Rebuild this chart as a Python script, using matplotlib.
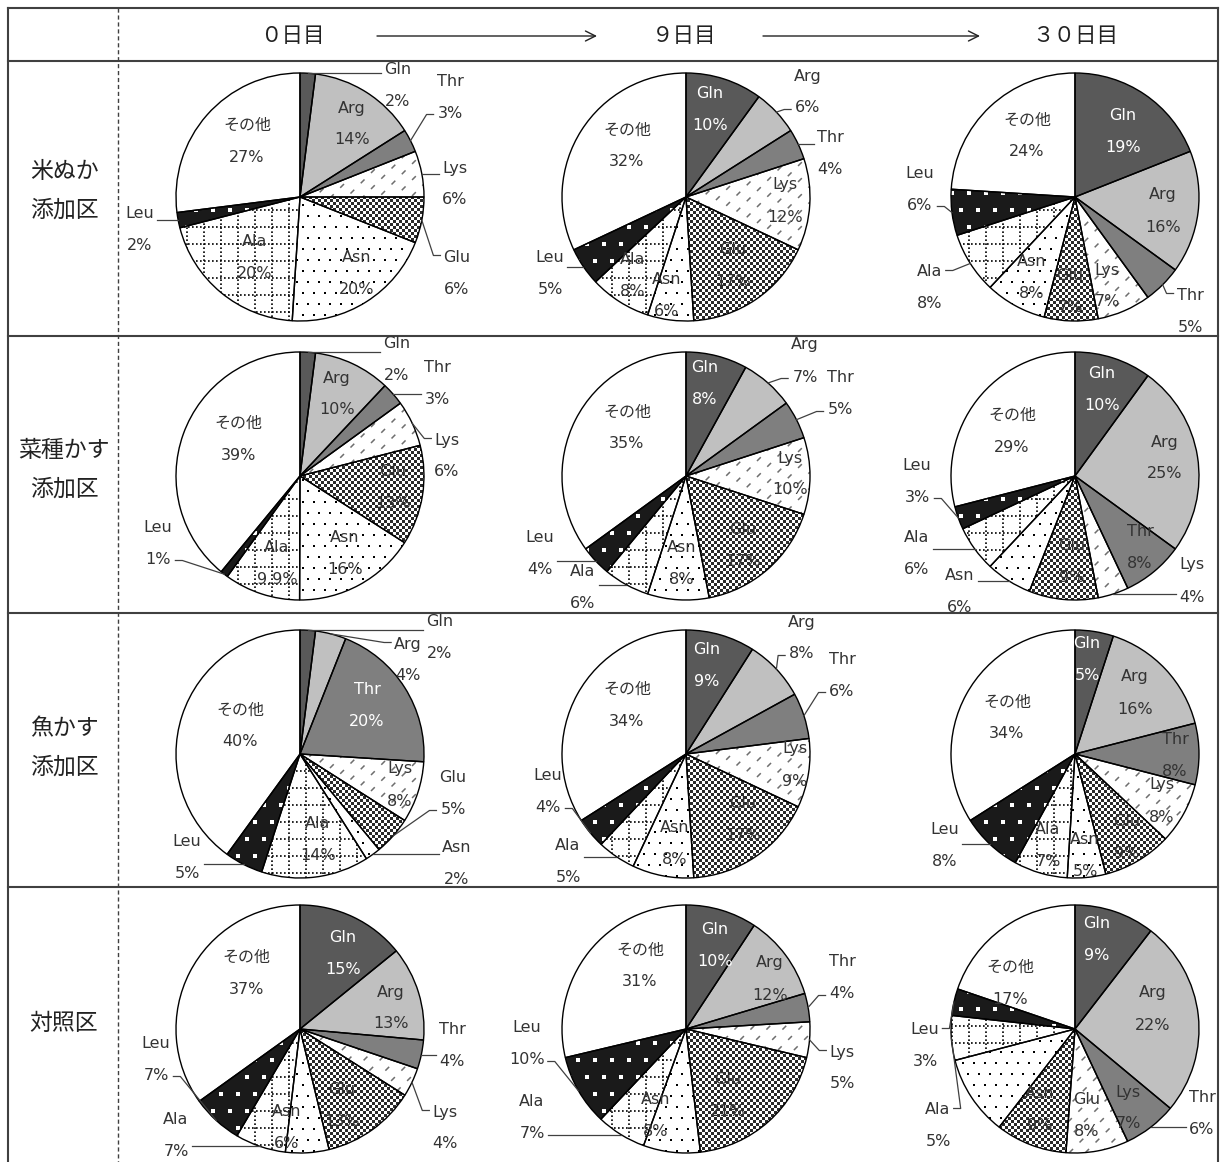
import numpy as np
import matplotlib
matplotlib.use("Agg")
import matplotlib.pyplot as plt
import matplotlib.patches as mpatches
from matplotlib.collections import LineCollection
from matplotlib.colors import ListedColormap

W, H = 1223, 1162

plt.rcParams['font.family'] = ['DejaVu Sans', 'Noto Sans CJK JP']

# --- data -------------------------------------------------------------
amino_acids = ['Gln', 'Arg', 'Thr', 'Lys', 'Glu', 'Asn', 'Ala', 'Leu', 'その他']
days = ['０日目', '９日目', '３０日目']
plots = ['米ぬか\n添加区', '菜種かす\n添加区', '魚かす\n添加区', '対照区']

# percentages, one list per sampling day (0, 9, 30)
rice_bran = [[2, 14, 3, 6, 6, 20, 20, 2, 27],
             [10, 6, 4, 12, 17, 6, 8, 5, 32],
             [19, 16, 5, 7, 7, 8, 8, 6, 24]]
rapeseed_cake = [[2, 10, 3, 6, 13, 16, 9.9, 1, 39],
                 [8, 7, 5, 10, 17, 8, 6, 4, 35],
                 [10, 25, 8, 4, 9, 6, 6, 3, 29]]
fish_cake = [[2, 4, 20, 8, 5, 2, 14, 5, 40],
             [9, 8, 6, 9, 17, 8, 5, 4, 34],
             [5, 16, 8, 8, 9, 5, 7, 8, 34]]
control = [[15, 13, 4, 4, 13, 6, 7, 7, 37],
           [10, 12, 4, 5, 21, 8, 7, 10, 31],
           [9, 22, 6, 7, 8, 9, 5, 3, 17]]
all_rows = [rice_bran, rapeseed_cake, fish_cake, control]

# --- layout (pixels, y measured from the top) --------------------------
pie_x = [300, 686, 1075]
pie_y = [197, 476, 754, 1029]
R = 124
row_lines = [61, 336, 613, 887]

# label anchor (x, y of the name line, outside?) for every slice
label_pos = [
    [[(398, 70, 1), (352, 108, 0), (450, 81, 1), (455, 168, 1), (457, 257, 1),
      (357, 258, 0), (255, 242, 0), (140, 213, 1), (247, 125, 0)],
     [(710, 93, 0), (808, 76, 1), (830, 137, 1), (785, 185, 0), (733, 250, 0),
      (667, 280, 0), (633, 260, 0), (550, 258, 1), (627, 130, 0)],
     [(1123, 115, 0), (1163, 195, 0), (1190, 295, 1), (1107, 270, 0), (1070, 276, 0),
      (1032, 262, 0), (930, 272, 1), (920, 173, 1), (1027, 120, 0)]],
    [[(397, 343, 1), (337, 378, 0), (437, 368, 1), (447, 440, 1), (393, 472, 0),
      (345, 537, 0), (277, 547, 0), (158, 527, 1), (238, 423, 0)],
     [(705, 368, 0), (805, 345, 1), (840, 378, 1), (790, 458, 0), (743, 530, 0),
      (682, 548, 0), (583, 572, 1), (540, 537, 1), (627, 412, 0)],
     [(1102, 373, 0), (1165, 442, 0), (1140, 532, 0), (1192, 565, 1), (1072, 545, 0),
      (960, 575, 1), (917, 537, 1), (917, 465, 1), (1012, 415, 0)]],
    [[(440, 622, 1), (408, 644, 1), (367, 689, 0), (400, 769, 0), (453, 777, 1),
      (457, 847, 1), (318, 824, 0), (187, 842, 1), (240, 710, 0)],
     [(707, 649, 0), (802, 622, 1), (842, 659, 1), (795, 749, 0), (743, 804, 0),
      (675, 827, 0), (568, 845, 1), (548, 775, 1), (627, 689, 0)],
     [(1087, 644, 0), (1135, 677, 0), (1175, 739, 0), (1162, 785, 0), (1127, 822, 0),
      (1085, 839, 0), (1048, 830, 0), (945, 829, 1), (1007, 702, 0)]],
    [[(343, 938, 0), (391, 992, 0), (452, 1030, 1), (445, 1112, 1), (342, 1090, 0),
      (287, 1112, 0), (176, 1120, 1), (156, 1043, 1), (246, 957, 0)],
     [(715, 930, 0), (770, 963, 0), (842, 962, 1), (842, 1052, 1), (728, 1080, 0),
      (656, 1100, 0), (532, 1102, 1), (527, 1028, 1), (640, 950, 0)],
     [(1097, 923, 0), (1153, 993, 0), (1202, 1098, 1), (1128, 1092, 0), (1087, 1100, 0),
      (1040, 1093, 0), (938, 1110, 1), (925, 1030, 1), (1010, 967, 0)]],
]

face_colors = ['#595959', '#c0c0c0', '#7f7f7f', 'white', 'white',
               'white', 'white', '#1a1a1a', 'white']
text_color = '#333333'
line_color = '#404040'


def fy(y):
    return H - y


# --- fill patterns, clipped to the wedge -------------------------------
def dashes(ax, wedge, cx, cy, r):
    step = 16
    segs = []
    for c in np.arange(-2 * r - (cx - cy) % step, 2 * r, step):
        x0, x1 = cx - r, cx + r
        segs.append([(x0, cy + (x0 - cx) + c), (x1, cy + (x1 - cx) + c)])
    lc = LineCollection(segs, colors='#6e6e6e', linewidths=1.1,
                        linestyles=[(0, (3.5, 6))], zorder=2)
    ax.add_collection(lc)
    lc.set_clip_path(wedge)


def checker(ax, wedge, cx, cy, r):
    cell = 3
    n = int(2 * r / cell) + 4
    x0 = np.floor((cx - r) / cell) * cell - cell
    y0 = np.floor((cy - r) / cell) * cell - cell
    ii, jj = np.indices((n, n))
    arr = ((ii + jj) % 2).astype(float)
    im = ax.imshow(arr, cmap=ListedColormap(['#2a2a2a', 'white']), vmin=0, vmax=1,
                   extent=(x0, x0 + n * cell, y0, y0 + n * cell), origin='lower',
                   interpolation='nearest', zorder=2)
    im.set_clip_path(wedge)


def dot_grid(ax, wedge, cx, cy, r, step, size, color, marker='s'):
    xs, ys = [], []
    for j, y in enumerate(np.arange(np.floor((cy - r) / step) * step, cy + r + step, step)):
        off = (j % 2) * step / 2
        for x in np.arange(np.floor((cx - r) / step) * step + off, cx + r + step, step):
            xs.append(x)
            ys.append(y)
    sc = ax.scatter(xs, ys, s=size, c=color, marker=marker, linewidths=0, zorder=2)
    sc.set_clip_path(wedge)


def dots(ax, wedge, cx, cy, r):
    dot_grid(ax, wedge, cx, cy, r, 11, 2.4, 'black')


def grid(ax, wedge, cx, cy, r):
    step = 17
    segs = []
    for x in np.arange(np.floor((cx - r) / step) * step, cx + r + step, step):
        segs.append([(x, cy - r), (x, cy + r)])
    for y in np.arange(np.floor((cy - r) / step) * step, cy + r + step, step):
        segs.append([(cx - r, y), (cx + r, y)])
    lc = LineCollection(segs, colors='black', linewidths=1.2,
                        linestyles=[(0, (1, 1.4))], zorder=2)
    ax.add_collection(lc)
    lc.set_clip_path(wedge)


def squares(ax, wedge, cx, cy, r):
    dot_grid(ax, wedge, cx, cy, r, 17, 7, 'white')


patterns = {3: dashes, 4: checker, 5: dots, 6: grid, 7: squares}

# --- figure ------------------------------------------------------------
fig = plt.figure(figsize=(W / 100, H / 100), dpi=100)
ax = fig.add_axes([0, 0, 1, 1])

outside_labels = []
for ri, row in enumerate(all_rows):
    for ci, vals in enumerate(row):
        cx, cy = pie_x[ci], fy(pie_y[ri])
        wedges, _ = ax.pie(vals, colors=face_colors, startangle=90, counterclock=False,
                           center=(cx, cy), radius=R,
                           wedgeprops=dict(linewidth=0, zorder=1))
        for k, w in enumerate(wedges):
            if k in patterns:
                patterns[k](ax, w, cx, cy, R)
            ax.add_patch(mpatches.Wedge((cx, cy), R, w.theta1, w.theta2, fill=False,
                                        ec='black', lw=1.0, zorder=3))

        for k, (w, name, v) in enumerate(zip(wedges, amino_acids, vals)):
            lx, ly, outside = label_pos[ri][ci][k]
            col = text_color
            if not outside and (k == 0 or (k == 2 and v >= 20)):
                col = 'white'
            t1 = ax.text(lx, fy(ly), name, ha='center', va='center', fontsize=11.5,
                         color=col, zorder=4)
            t2 = ax.text(lx, fy(ly + 32), f'{v:g}%', ha='center', va='center',
                         fontsize=11.5, color=col, zorder=4)
            if outside:
                outside_labels.append((t1, t2, w, cx, cy))

# pie() resets the view each call, so fix the limits before measuring text
ax.set_xlim(0, W)
ax.set_ylim(0, H)
ax.set_aspect('auto')
ax.axis('off')
renderer = fig.canvas.get_renderer()
to_data = ax.transData.inverted()

# leader lines from slice edge to the side of the label block
for t1, t2, w, cx, cy in outside_labels:
    b1 = t1.get_window_extent(renderer).transformed(to_data)
    b2 = t2.get_window_extent(renderer).transformed(to_data)
    left, right = min(b1.x0, b2.x0), max(b1.x1, b2.x1)
    bottom, top = min(b1.y0, b2.y0), max(b1.y1, b2.y1)
    th = np.deg2rad((w.theta1 + w.theta2) / 2)
    ex, ey = cx + R * np.cos(th), cy + R * np.sin(th)
    if ex < (left + right) / 2:
        axx, tail = left - 3, left - 10
    else:
        axx, tail = right + 3, right + 10
    ayy = np.clip(ey, bottom + 6, top - 6)
    ax.plot([ex, tail, axx], [ey, ayy, ayy], color=line_color, lw=0.9, zorder=4)

# --- table frame -------------------------------------------------------
x_left, x_right, x_split = 8, 1218, 118
ax.plot([x_left, x_right], [fy(8), fy(8)], color=line_color, lw=1.5)
for y in row_lines:
    ax.plot([x_left, x_right], [fy(y), fy(y)], color=line_color, lw=1.5)
ax.plot([x_left, x_left], [fy(8), 0], color=line_color, lw=1.5)
ax.plot([x_right, x_right], [fy(8), 0], color=line_color, lw=1.5)
ax.plot([x_split, x_split], [fy(8), 0], color=line_color, lw=1.0, linestyle=(0, (3, 2)))

# header with time arrows
for x, d in zip([292, 684, 1075], days):
    ax.text(x, fy(36), d, ha='center', va='center', fontsize=15.5,
            family=['Noto Sans CJK JP'], color='#222222')
for x0, x1 in [(377, 597), (763, 980)]:
    ax.annotate('', xy=(x1, fy(36)), xytext=(x0, fy(36)),
                arrowprops=dict(arrowstyle='->', lw=1.0, color='#222222',
                                mutation_scale=18, shrinkA=0, shrinkB=0))

for ri, name in enumerate(plots):
    ax.text(64, fy(pie_y[ri] - 6), name, ha='center', va='center', fontsize=16.5,
            family=['Noto Sans CJK JP'], color='#222222', linespacing=1.85)

ax.set_xlim(0, W)
ax.set_ylim(0, H)
fig.savefig('out.png', dpi=100)
